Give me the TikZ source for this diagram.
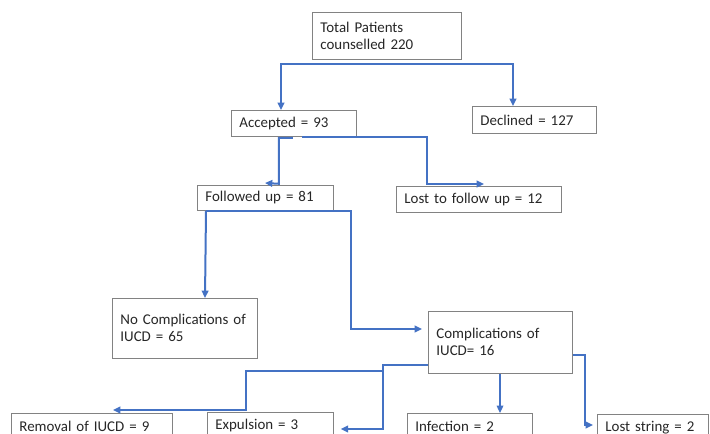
\documentclass[tikz,border=0pt]{standalone}
\usepackage{fontspec}
\setmainfont{Carlito}
\usepackage{xcolor}
\usepackage{tikz}
\usetikzlibrary{arrows.meta,positioning,calc}
\definecolor{flowblue}{RGB}{68,114,196}
\definecolor{boxgray}{RGB}{130,130,130}

\begin{document}
\begin{tikzpicture}[
  x=0.75pt, y=-0.75pt,
  box/.style={rectangle, draw=boxgray, line width=0.6pt, anchor=north west,
              align=left, inner xsep=6pt, inner ysep=2pt, text=black!85,
              font=\fontsize{11.2}{13.2}\selectfont},
  tall/.style={text depth=14pt},
  stream/.style={draw=flowblue, line width=1.5pt, line join=miter,
                 -{Triangle[length=5.5pt,width=5pt]}},
]
  \clip (0,0) rectangle (710,434);

  % Counselling
  \node[box, text width=99.75pt, minimum height=35.25pt] (total) at (312,12)
       {Total Patients\\counselled 220};
  \node[box, text width=81.75pt, minimum height=19.5pt] (accepted) at (231,110) {Accepted = 93};
  \node[box, text width=81pt, minimum height=20.25pt] (declined) at (472,106) {Declined = 127};

  % Follow up
  \node[box, text width=90pt, minimum height=18.75pt] (followed) at (197,185) {Followed up = 81};
  \node[box, text width=111.75pt, minimum height=19.5pt] (lostfu) at (396,186) {Lost to follow up = 12};

  % Complications
  \node[box, tall, text width=96.75pt, minimum height=45pt] (nocomp) at (112,298)
       {No Complications of\\IUCD = 65};
  \node[box, tall, text width=96pt, minimum height=46.5pt] (comp) at (428,311)
       {Complications of\\IUCD= 16};

  % Outcomes
  \node[box, text width=108.75pt, minimum height=19.5pt] (removal) at (11,413) {Removal of IUCD = 9};
  \node[box, text width=82.5pt, minimum height=19.5pt] (expulsion) at (207,412) {Expulsion = 3};
  \node[box, text width=81.75pt, minimum height=19.5pt] (infection) at (407,413) {Infection = 2};
  \node[box, text width=71.25pt, minimum height=19.5pt] (loststring) at (597,414) {Lost string = 2};

  % Connections
  \coordinate (tsplit) at ($(total.south)+(-6,4)$);
  \draw[stream] (tsplit) -| ($(accepted.north west)+(50,0)$);
  \draw[stream] (tsplit) -| ($(declined.north west)+(41,0)$);

  \draw[stream] ($(accepted.south)+(-1,1)$) -| ++(-14,46) -- ($(followed.north west)+(68,-2)$);
  \draw[stream] ($(accepted.south)+(8.5,0)$) -- ++(125,0) |- ($(lostfu.north west)+(88,-2)$);

  \coordinate (fsplit) at ($(followed.south west)+(9,0)$);
  \draw[stream] (fsplit) -- ($(nocomp.north west)+(93,0)$);
  \draw[stream] (fsplit) -- ++(145,0) |- ($(comp.north west)+(-6,18)$);

  \coordinate (cleft) at ($(comp.west)+(0,23)$);
  \coordinate (csplit) at ($(cleft)+(-45,0)$);
  \draw[stream] (cleft) -- (csplit) -- ++(0,6) -- ++(-137,0) |- ($(removal.north west)+(102,-3)$);
  \draw[stream] (csplit) |- ($(expulsion.north east)+(7,17)$);
  \draw[stream, line width=0.9pt] ($(comp.south west)+(72,0)$) -- ($(infection.north west)+(93,0)$);
  \draw[stream] ($(comp.north east)+(0,44)$) -- ++(12,0) |- ($(loststring.north west)+(-4,11)$);

\end{tikzpicture}
\end{document}
